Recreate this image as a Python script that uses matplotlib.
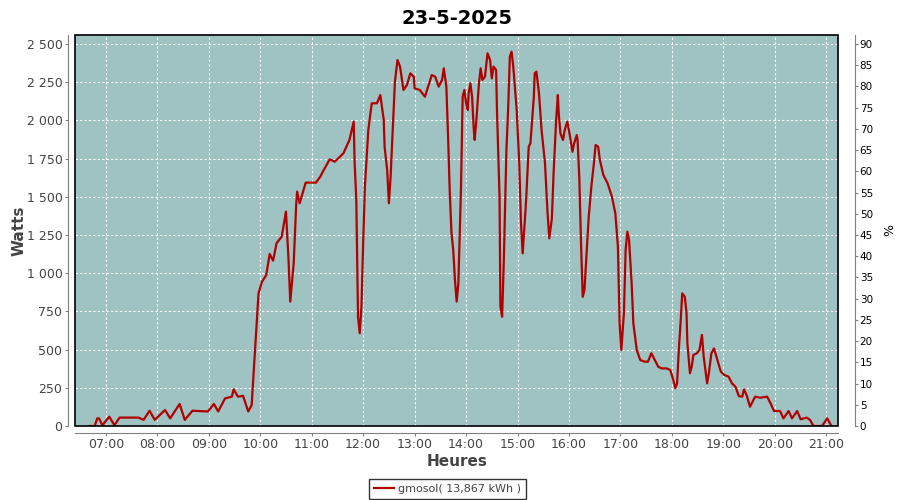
import numpy as np
import matplotlib
matplotlib.use('agg')
from matplotlib import pyplot as plt
from matplotlib.patches import Rectangle
from matplotlib.ticker import FuncFormatter, MultipleLocator

plt.rcParams['font.family'] = ['DejaVu Sans']

title = '23-5-2025'
series_name = 'gmosol( 13,867 kWh )'

# time of day in minutes, power in watts
minutes = [401, 407, 410, 412, 416, 424, 430, 436, 458, 464, 471, 477, 489, 495, 506, 512,
           521, 539, 546, 551, 559, 567, 569, 574, 580, 586, 590, 594, 598, 602, 607, 611,
           615, 619, 625, 630, 633, 635, 639, 642, 643, 646, 653, 665, 670, 674, 681, 687,
           697, 704, 709, 710, 712, 714, 716, 718, 720, 722, 726, 730, 736, 740, 744, 745,
           748, 750, 752, 755, 757, 760, 763, 767, 771, 775, 779, 780, 786, 792, 800, 804,
           808, 812, 814, 817, 819, 821, 823, 825, 827, 829, 831, 834, 836, 838, 840, 842,
           843, 845, 847, 849, 850, 852, 855, 857, 859, 862, 865, 868, 870, 872, 875, 876,
           879, 880, 882, 884, 887, 889, 891, 893, 895, 899, 902, 904, 906, 908, 910, 913,
           915, 919, 920, 922, 925, 928, 932, 935, 937, 940, 942, 945, 947, 948, 950, 953,
           955, 958, 961, 964, 966, 969, 970, 972, 974, 976, 978, 980, 983, 986, 989, 991,
           994, 996, 1000, 1005, 1010, 1014, 1017, 1019, 1021, 1024, 1026, 1028, 1030, 1033, 1035, 1039,
           1043, 1048, 1052, 1056, 1059, 1064, 1068, 1074, 1078, 1081, 1084, 1086, 1088, 1090, 1092, 1095,
           1097, 1098, 1101, 1103, 1105, 1109, 1112, 1115, 1117, 1119, 1121, 1123, 1126, 1129, 1133, 1137,
           1141, 1146, 1150, 1154, 1158, 1162, 1164, 1167, 1171, 1177, 1183, 1191, 1195, 1199, 1206, 1210,
           1216, 1220, 1226, 1230, 1237, 1241, 1245, 1255, 1261, 1266]
watts = [0, 0, 50, 50, 5, 61, 5, 55, 55, 40, 100, 40, 105, 50, 144, 40,
         100, 95, 144, 95, 181, 192, 240, 192, 197, 95, 137, 497, 868, 944, 988, 1126,
         1082, 1196, 1239, 1403, 1086, 814, 1065, 1458, 1534, 1458, 1593, 1593, 1632, 1675, 1745, 1730,
         1785, 1872, 1992, 1730, 1479, 715, 607, 781, 1196, 1566, 1937, 2112, 2112, 2166, 2003, 1828,
         1675, 1458, 1632, 2003, 2253, 2395, 2352, 2199, 2232, 2308, 2286, 2210, 2199, 2155, 2297, 2286,
         2221, 2265, 2341, 2221, 1894, 1523, 1261, 1152, 956, 814, 934, 1545, 2155, 2199, 2112, 2068,
         2177, 2243, 2155, 1937, 1872, 2003, 2243, 2341, 2265, 2286, 2439, 2395, 2275, 2352, 2330, 2068,
         1501, 781, 715, 1086, 1806, 2068, 2417, 2450, 2352, 2068, 1719, 1326, 1130, 1304, 1479, 1828,
         1850, 2155, 2308, 2319, 2177, 1937, 1719, 1392, 1228, 1359, 1654, 2003, 2166, 2046, 1915, 1872,
         1937, 1992, 1900, 1795, 1850, 1904, 1872, 1621, 1196, 846, 890, 1086, 1370, 1566, 1719, 1839,
         1828, 1741, 1643, 1588, 1501, 1392, 1174, 672, 497, 738, 1152, 1272, 1217, 934, 672, 497,
         432, 421, 421, 476, 443, 388, 377, 377, 366, 312, 247, 279, 497, 672, 868, 846,
         738, 541, 345, 388, 465, 476, 497, 596, 454, 366, 279, 345, 476, 508, 432, 356,
         334, 323, 279, 257, 196, 192, 240, 203, 126, 192, 185, 192, 148, 98, 98, 50,
         98, 50, 98, 44, 55, 40, 0, 0, 50, 0]

hours = np.array(minutes) / 60.0
watts = np.array(watts)

ymax_w = 2559
xmin_h, xmax_h = 6.40, 21.23
axis_grey = '#808080'
text_grey = '#444444'

fig = plt.figure(figsize=(9, 5), dpi=100)
ax = fig.add_axes([0.0833, 0.148, 0.848, 0.782])
ax.set_facecolor('#9fc3c2')
ax.plot(hours, watts, color='#b00000', linewidth=1.6, zorder=3)
ax.set_xlim(xmin_h, xmax_h)
ax.set_ylim(0, ymax_w)

# grid
ax.xaxis.set_major_locator(MultipleLocator(1))
ax.yaxis.set_major_locator(MultipleLocator(250))
ax.grid(True, color='white', linestyle=(0, (2, 2)), linewidth=0.8)
ax.set_axisbelow(True)

ax.xaxis.set_major_formatter(FuncFormatter(lambda v, p: '{:02d}:00'.format(int(round(v)))))
ax.yaxis.set_major_formatter(FuncFormatter(lambda v, p: '{:,}'.format(int(v)).replace(',', ' ')))

for s in ['top', 'right']:
    ax.spines[s].set_visible(False)
for s in ['left', 'bottom']:
    ax.spines[s].set_position(('outward', 5))
    ax.spines[s].set_color(axis_grey)
ax.tick_params(axis='both', colors=axis_grey, labelcolor=text_grey, labelsize=9, length=2, direction='out')
ax.tick_params(axis='x', pad=1.5)
ax.tick_params(axis='y', pad=2)

# black frame of the plot area
ax.add_patch(Rectangle((0, 0), 1, 1, transform=ax.transAxes, fill=False,
                       edgecolor='black', linewidth=1.2, zorder=5, clip_on=False))

ax.set_xlabel('Heures', fontsize=11, fontweight='bold', color=text_grey)
ax.set_ylabel('Watts', fontsize=11, fontweight='bold', color=text_grey)
ax.xaxis.set_label_coords(0.5, -0.072)
ax.yaxis.set_label_coords(-0.063, 0.5)
ax.set_title(title, fontsize=14, fontweight='bold', pad=8)

# right axis in percent
ax2 = ax.twinx()
ax2.set_ylim(0, ymax_w * 90 / 2500)
ax2.yaxis.set_major_locator(MultipleLocator(5))
for s in ['top', 'left', 'bottom']:
    ax2.spines[s].set_visible(False)
ax2.spines['right'].set_position(('outward', 12))
ax2.spines['right'].set_color(axis_grey)
ax2.tick_params(axis='y', colors=axis_grey, labelcolor='black', labelsize=7.5, length=2, pad=1.5)
ax2.set_ylabel('%', fontsize=9, rotation=-90, va='center', ha='center')
ax2.yaxis.set_label_coords(1.062, 0.5)

leg = ax.legend([ax.lines[0]], [series_name], loc='upper center', bbox_to_anchor=(0.488, -0.135),
                frameon=True, fancybox=False, fontsize=8, handlelength=1.8, handletextpad=0.3,
                borderpad=0.45, borderaxespad=0)
leg.get_frame().set_edgecolor('black')
leg.get_frame().set_linewidth(1.0)
for t in leg.get_texts():
    t.set_color(text_grey)

fig.savefig('out.png', dpi=100)
